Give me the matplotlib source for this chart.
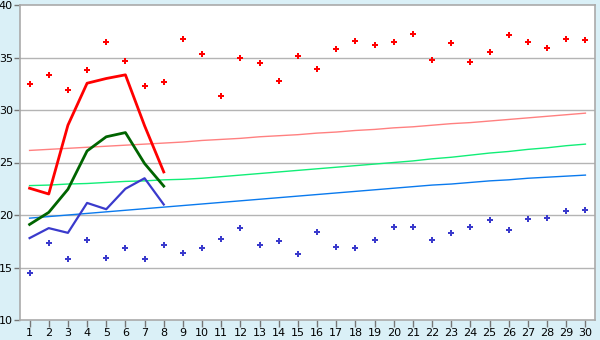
import matplotlib
matplotlib.use("Agg")
import matplotlib.pyplot as plt

# day of month
days = list(range(1, 31))

# daily maximum / minimum (scatter)
tmax = [32.45, 33.3, 31.9, 33.8, 36.5, 34.7, 32.25, 32.65, 36.8, 35.35,
        31.3, 35.0, 34.5, 32.75, 35.1, 33.95, 35.8, 36.6, 36.15, 36.45,
        37.2, 34.8, 36.35, 34.6, 35.5, 37.1, 36.45, 35.95, 36.8, 36.7]
tmin = [14.45, 17.3, 15.8, 17.6, 15.95, 16.85, 15.85, 17.1, 16.35, 16.9,
        17.7, 18.75, 17.1, 17.5, 16.25, 18.35, 17.0, 16.9, 17.6, 18.85,
        18.9, 17.6, 18.25, 18.9, 19.5, 18.55, 19.6, 19.7, 20.35, 20.45]

# current month lines (days 1-8)
cur_days = days[:8]
cur_max = [22.55, 22.0, 28.55, 32.55, 33.0, 33.35, 28.5, 24.1]
cur_avg = [19.1, 20.25, 22.45, 26.1, 27.45, 27.85, 24.9, 22.75]
cur_min = [17.8, 18.75, 18.3, 21.15, 20.55, 22.5, 23.5, 21.0]

# normals
norm_max = [26.15, 26.25, 26.35, 26.45, 26.55, 26.65, 26.75, 26.85, 26.95, 27.1,
            27.2, 27.3, 27.45, 27.55, 27.65, 27.8, 27.9, 28.05, 28.15, 28.3,
            28.4, 28.55, 28.7, 28.8, 28.95, 29.1, 29.25, 29.4, 29.55, 29.7]
norm_avg = [22.8, 22.85, 22.95, 23.0, 23.1, 23.2, 23.25, 23.35, 23.4, 23.5,
            23.65, 23.8, 23.95, 24.1, 24.25, 24.4, 24.55, 24.7, 24.85, 25.0,
            25.15, 25.35, 25.5, 25.7, 25.9, 26.05, 26.25, 26.4, 26.6, 26.75]
norm_min = [19.7, 19.85, 20.0, 20.15, 20.3, 20.45, 20.6, 20.75, 20.9, 21.05,
            21.2, 21.35, 21.5, 21.65, 21.8, 21.95, 22.1, 22.25, 22.4, 22.55,
            22.7, 22.85, 22.95, 23.1, 23.25, 23.35, 23.5, 23.6, 23.7, 23.8]

yticks = [10, 15, 20, 25, 30, 35, 40]

fig = plt.figure(figsize=(6, 3.4), dpi=100, facecolor="#daf0f7")
ax = fig.add_axes([20 / 600, 20 / 340, 575 / 600, 315 / 340])
ax.set_facecolor("white")

for y in yticks[1:-1]:
    ax.axhline(y, color="#b4b4b4", lw=1, zorder=0)

ax.plot(days, norm_max, color="#ff8080", lw=1, zorder=2)
ax.plot(days, norm_avg, color="#11ee77", lw=1, zorder=2)
ax.plot(days, norm_min, color="#0a7aee", lw=1, zorder=2)

ax.plot(cur_days, cur_max, color="#ff0000", lw=2, zorder=3)
ax.plot(cur_days, cur_avg, color="#006400", lw=2, zorder=3)
ax.plot(cur_days, cur_min, color="#3a3acc", lw=1.6, zorder=3)

ax.plot(days, tmax, "P", color="#ff0000", ms=5, mew=0, ls="none", zorder=4)
ax.plot(days, tmin, "P", color="#3a3acc", ms=5, mew=0, ls="none", zorder=4)

ax.set_xlim(0.5, 30.5)
ax.set_ylim(10, 40)
ax.set_xticks(days)
ax.set_yticks(yticks)
for s in ax.spines.values():
    s.set_color("#aaaaaa")
    s.set_linewidth(1.2)
ax.tick_params(axis="x", length=5, width=1, color="#777777", labelsize=8, pad=1)
ax.tick_params(axis="y", length=4, width=1, color="#777777", labelsize=8, pad=1)

fig.savefig("out.png", dpi=100, facecolor=fig.get_facecolor())
